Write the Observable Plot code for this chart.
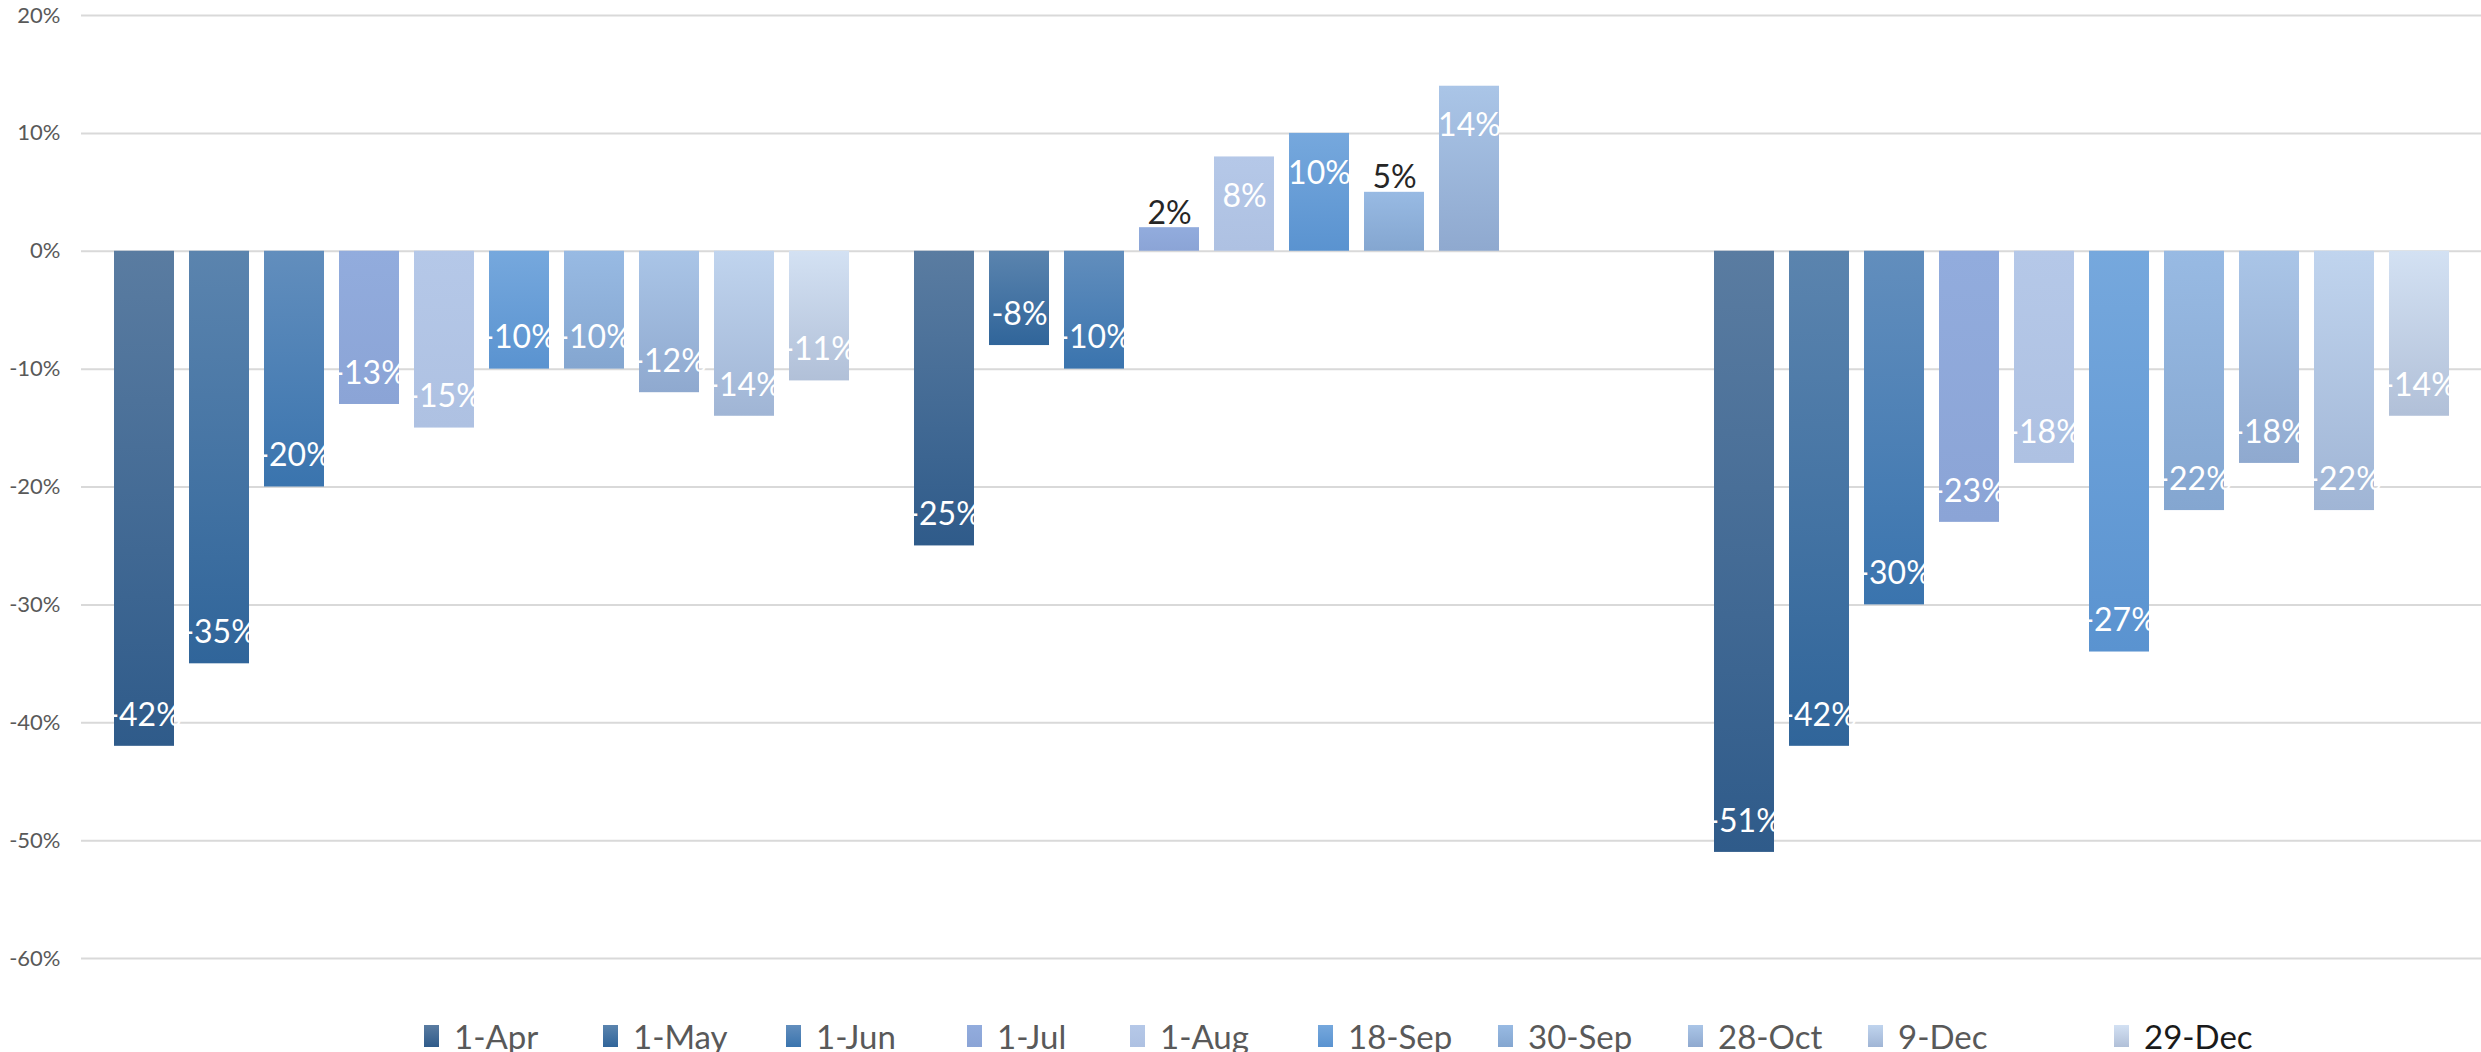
<!DOCTYPE html>
<html>
<head>
<meta charset="utf-8">
<script src="https://cdn.jsdelivr.net/npm/d3@7"></script>
<script src="https://cdn.jsdelivr.net/npm/@observablehq/plot@0.6"></script>
<style>
  html, body { margin: 0; padding: 0; background: #fff; overflow: hidden; }
  #chart svg { display: block; font-family: Lato, "Open Sans", sans-serif; }
  #legend { position: relative; height: 77px; width: 2481px;
            font-family: Lato, "Open Sans", sans-serif; font-size: 33px; color: #595959; white-space: nowrap; }
  .item { position: absolute; top: 41px; display: inline-flex; align-items: center; gap: 15px; line-height: 40px; }
  .sw { width: 15px; height: 22px; display: inline-block; flex: none; }
</style>
</head>
<body>
<div id="chart"></div>
<div id="legend"></div>
<script>
// ---- data ----
const groups = ["Group 1", "Group 2", "Group 3"];
const series = ["1-Apr", "1-May", "1-Jun", "1-Jul", "1-Aug", "18-Sep", "30-Sep", "28-Oct", "9-Dec", "29-Dec"];
const group1Values = [-42, -35, -20, -13, -15, -10, -10, -12, -14, -11];
const group2Values = [-25, -8, -10, 2, 8, 10, 5, 14, null, null];
const group3Values = [-51, -42, -30, -23, -18, -34, -22, -18, -22, -14];
const group1Labels = ["-42%", "-35%", "-20%", "-13%", "-15%", "-10%", "-10%", "-12%", "-14%", "-11%"];
const group2Labels = ["-25%", "-8%", "-10%", "2%", "8%", "10%", "5%", "14%", null, null];
const group3Labels = ["-51%", "-42%", "-30%", "-23%", "-18%", "-27%", "-22%", "-18%", "-22%", "-14%"];
const yTicks = [-60, -50, -40, -30, -20, -10, 0, 10, 20];

// gradient colours per series (top, bottom)
const colorTop    = ["#5a7ca1", "#5b84ae", "#628ebd", "#92acdd", "#b5c8e8", "#76a8dd", "#98bae3", "#aac5e7", "#c0d4ee", "#d3e1f3"];
const colorBottom = ["#2f5b8a", "#30659a", "#3a74ae", "#8ba4d6", "#aec1e2", "#5a93d0", "#84a6d0", "#8fa9cf", "#a0b5d5", "#b1c0d8"];

// ---- table ----
const valueSets = [group1Values, group2Values, group3Values];
const labelSets = [group1Labels, group2Labels, group3Labels];
const table = [];
groups.forEach((g, gi) => series.forEach((s, si) => {
  table.push({group: g, series: s, value: valueSets[gi][si], label: labelSets[gi][si]});
}));
const valid = table.filter(d => d.value != null);
const negatives = valid.filter(d => d.value < 0);
const posInside = valid.filter(d => d.value > 5);
const posOutside = valid.filter(d => d.value > 0 && d.value <= 5);

const fills = series.map((s, i) => `url(#barGrad${i})`);

const plot = Plot.plot({
  width: 2481,
  height: 975,
  marginTop: 15,
  marginBottom: 17,
  marginLeft: 80,
  marginRight: 0,
  fx: {domain: groups, axis: null, padding: 0},
  x: {domain: series, axis: null, paddingInner: 0.206, paddingOuter: 0.40},
  y: {domain: [-60, 20], axis: null},
  color: {type: "ordinal", domain: series, range: fills},
  marks: [
    Plot.gridY(yTicks, {stroke: "#d9d9d9", strokeOpacity: 1, strokeWidth: 2}),
    Plot.axisY(yTicks, {label: null, tickSize: 0, tickPadding: 21, tickFormat: d => `${d}%`, fontSize: 22, fill: "#595959"}),
    Plot.barY(valid, {fx: "group", x: "series", y: "value", fill: "series"}),
    Plot.text(negatives, {fx: "group", x: "series", y: "value", text: "label", dy: -31, fill: "white", fontSize: 32, fontFamily: "Lato"}),
    Plot.text(posInside, {fx: "group", x: "series", y: "value", text: "label", dy: 40, fill: "white", fontSize: 32, fontFamily: "Lato"}),
    Plot.text(posOutside, {fx: "group", x: "series", y: "value", text: "label", lineAnchor: "bottom", dy: -4, fill: "#262626", fontSize: 32, fontFamily: "Lato"})
  ]
});

// gradient defs
const ns = "http://www.w3.org/2000/svg";
const defs = document.createElementNS(ns, "defs");
series.forEach((s, i) => {
  const lg = document.createElementNS(ns, "linearGradient");
  lg.setAttribute("id", `barGrad${i}`);
  lg.setAttribute("x1", "0"); lg.setAttribute("y1", "0");
  lg.setAttribute("x2", "0"); lg.setAttribute("y2", "1");
  [[0, colorTop[i]], [1, colorBottom[i]]].forEach(([o, c]) => {
    const st = document.createElementNS(ns, "stop");
    st.setAttribute("offset", o);
    st.setAttribute("stop-color", c);
    lg.appendChild(st);
  });
  defs.appendChild(lg);
});
plot.insertBefore(defs, plot.firstChild);
document.getElementById("chart").appendChild(plot);

// legend (item left edges in page pixels, a layout choice)
const legendLeft = [424, 603, 786, 967, 1130, 1318, 1498, 1688, 1868, 2114];
const legend = document.getElementById("legend");
series.forEach((s, i) => {
  const item = document.createElement("span");
  item.className = "item";
  item.style.left = legendLeft[i] + "px";
  if (i === series.length - 1) item.style.color = "#1a1a1a";
  const sw = document.createElement("span");
  sw.className = "sw";
  sw.style.background = `linear-gradient(${colorTop[i]}, ${colorBottom[i]})`;
  const tx = document.createElement("span");
  tx.textContent = s;
  item.appendChild(sw);
  item.appendChild(tx);
  legend.appendChild(item);
});
</script>
</body>
</html>
